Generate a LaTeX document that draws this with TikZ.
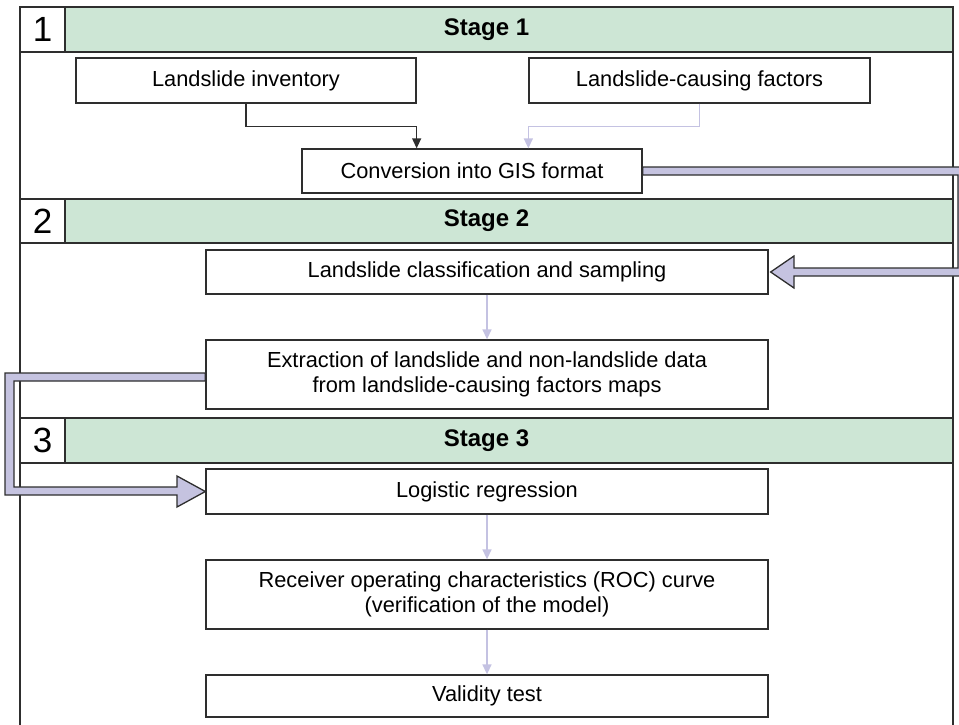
\documentclass[tikz,border=0pt]{standalone}
\usepackage{fontspec}
\setmainfont{Liberation Sans}
\usetikzlibrary{arrows.meta,calc}
\definecolor{hdrgreen}{HTML}{CDE6D5}
\definecolor{lav}{HTML}{C5C3E0}
\definecolor{lavline}{HTML}{C4C2E2}
\definecolor{ink}{HTML}{2E2E2E}
\begin{document}
\begin{tikzpicture}[x=1pt,y=-1pt,
 box/.style={draw=ink, line width=1.3pt, fill=white, rectangle, inner sep=0pt, font=\fontsize{21.8}{25}\selectfont, align=center},
 hdr/.style={draw=ink, line width=2.2pt, fill=hdrgreen, inner sep=0pt, minimum width=888pt},
 numbox/.style={draw=ink, line width=2.2pt, fill=white, inner sep=0pt, minimum width=45pt, font=\fontsize{35}{35}\selectfont},
 stagetxt/.style={font=\fontsize{24}{24}\selectfont\bfseries, inner sep=0pt},
 frameline/.style={draw=ink, line width=1.8pt},
 darr/.style={draw=ink, line width=1.3pt, -{Triangle[width=9pt,length=10pt]}},
 larr/.style={draw=lavline, line width=1.5pt, -{Triangle[width=9pt,length=10pt]}},
 bigarr/.style={fill=lav, draw=ink, line width=1.3pt, line join=miter}
]
\useasboundingbox (0,0) rectangle (959,725);
% frame
\draw[frameline] (20,740) -- (20,7) -- (953,7) -- (953,740);
% headers
\node[hdr, minimum height=45pt] (h1) at (509,29.5) {};
\node[numbox, minimum height=45pt] (n1) at (42.5,29.5) {1};
\node[stagetxt] (s1) at (486.5,29.5) {Stage 1};
\node[hdr, minimum height=44pt] (h2) at (509,221) {};
\node[numbox, minimum height=44pt] (n2) at (42.5,221) {2};
\node[stagetxt] (s2) at (486.5,221) {Stage 2};
\node[hdr, minimum height=45pt] (h3) at (509,440.5) {};
\node[numbox, minimum height=45pt] (n3) at (42.5,440.5) {3};
\node[stagetxt] (s3) at (486.5,440.5) {Stage 3};
% boxes
\node[box, minimum width=340pt, minimum height=45pt] (inv) at (246,80.5) {Landslide inventory};
\node[box, minimum width=341pt, minimum height=45pt] (fac) at (699.5,80.5) {Landslide-causing factors};
\node[box, minimum width=340pt, minimum height=44pt] (gis) at (472,171) {Conversion into GIS format};
\node[box, minimum width=562pt, minimum height=44pt] (cls) at (487,272) {Landslide classification and sampling};
\node[box, minimum width=562pt, minimum height=69pt] (ext) at (487,374.5) {Extraction of landslide and non-landslide data\\from landslide-causing factors maps};
\node[box, minimum width=562pt, minimum height=45pt] (log) at (487,491.5) {Logistic regression};
\node[box, minimum width=562pt, minimum height=69pt] (roc) at (487,594.5) {Receiver operating characteristics (ROC) curve\\(verification of the model)};
\node[box, minimum width=562pt, minimum height=42pt] (val) at (487,696) {Validity test};
% thin connectors
\draw[darr] (inv.south) -- ++(0,23) -| (gis.north -| inv.east);
\draw[larr] (fac.south) -- ++(0,23) -| (gis.north -| fac.west);
\draw[larr] (cls.south) -- (ext.north);
\draw[larr] (log.south) -- (roc.north);
\draw[larr] (roc.south) -- (val.north);
% thick arrows
\draw[bigarr] ($(gis.east)+(0,-4)$) -- (966,167) -- (966,276) -- (794,276) -- (794,288)
  -- ($(cls.east)+(2,0)$) -- (794,256) -- (794,268) -- (958,268) -- (958,175)
  -- ($(gis.east)+(0,4)$) -- cycle;
\draw[bigarr] ($(ext.west)+(0,-1.5)$) -- (5,373) -- (5,495) -- (177,495) -- (177,507)
  -- (log.west) -- (177,476) -- (177,487) -- (14,487) -- (14,381)
  -- ($(ext.west)+(0,6.5)$) -- cycle;
\end{tikzpicture}
\end{document}
